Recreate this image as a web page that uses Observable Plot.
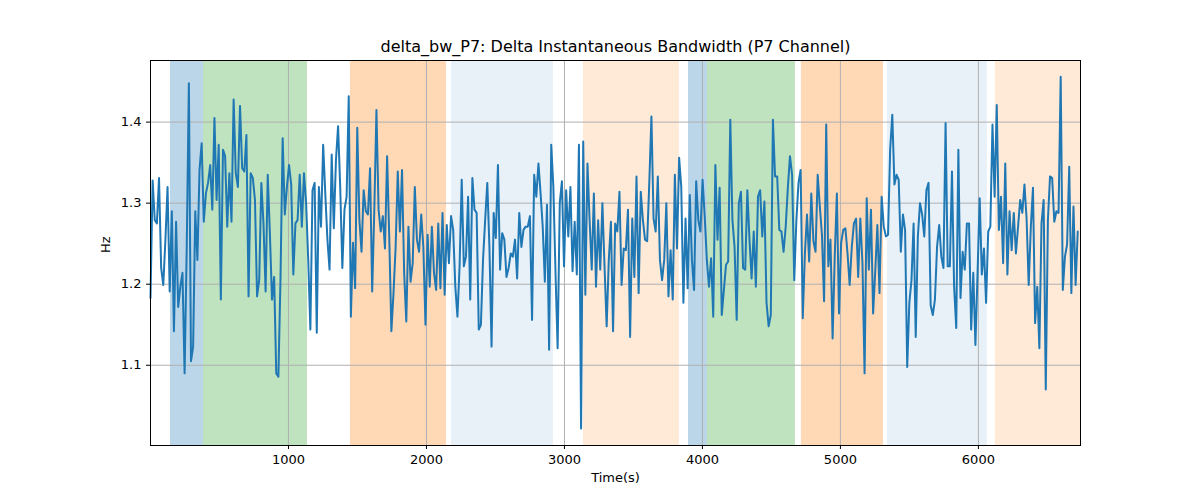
<!DOCTYPE html>
<html>
<head>
<meta charset="utf-8">
<script src="https://cdn.jsdelivr.net/npm/d3@7"></script>
<script src="https://cdn.jsdelivr.net/npm/@observablehq/plot@0.6"></script>
<style>
  body { margin: 0; background: #fff; font-family: "DejaVu Sans", sans-serif; }
</style>
</head>
<body>
<div id="chart"></div>
<script>
// signal values (regular sampling over the time range)
const values = [
  1.183,1.328,1.279,1.275,1.331,1.22,1.199,1.255,1.32,1.191,1.29,1.142,1.277,1.172,1.197,1.214,1.09,1.246,1.448,1.105,
  1.123,1.29,1.23,1.341,1.374,1.277,1.312,1.325,1.347,1.292,1.405,1.304,1.372,1.181,1.366,1.358,1.271,1.337,1.277,1.428,
  1.337,1.32,1.42,1.343,1.339,1.384,1.185,1.337,1.331,1.304,1.185,1.205,1.325,1.275,1.191,1.335,1.263,1.181,1.209,1.09,
  1.086,1.209,1.38,1.286,1.32,1.347,1.323,1.212,1.275,1.279,1.335,1.271,1.337,
  1.3,1.23,1.144,1.316,1.325,1.14,1.32,1.271,1.372,1.312,1.255,1.218,1.36,1.269,1.353,1.395,1.32,1.22,1.292,1.308,
  1.432,1.16,1.251,1.195,1.393,1.279,1.24,1.316,1.29,1.286,1.343,1.191,1.292,1.415,1.292,1.265,1.284,1.244,1.358,1.259,
  1.142,1.189,1.246,1.339,1.265,1.341,1.214,1.154,1.271,1.203,1.226,1.32,1.255,1.24,1.286,1.246,1.15,1.261,1.197,1.271,
  1.214,1.193,1.275,1.195,1.288,1.187,1.273,1.226,1.284,1.267,1.197,1.16,1.222,1.329,1.222,1.234,
  1.308,1.181,1.331,1.292,1.288,1.144,1.15,1.23,1.279,1.325,1.246,1.123,1.288,1.257,1.347,1.218,1.263,1.255,1.209,1.22,
  1.238,1.234,1.255,1.207,1.288,1.246,1.267,1.271,1.271,1.284,1.156,1.335,1.308,1.349,1.312,1.271,1.203,1.298,1.119,1.372,
  1.32,1.214,1.121,1.3,1.327,1.222,1.316,1.259,1.32,1.216,1.277,1.212,1.372,1.022,1.376,1.187,1.349,1.279,1.218,1.312,
  1.197,1.279,1.218,1.3,1.222,1.148,1.23,1.277,1.142,1.275,
  1.265,1.314,1.199,1.244,1.242,1.292,1.135,1.281,1.209,1.333,1.189,1.314,1.279,1.255,1.253,1.325,1.407,1.281,1.265,1.333,
  1.23,1.205,1.23,1.3,1.185,1.242,1.181,1.335,1.244,1.356,1.32,1.177,1.281,1.195,1.31,1.23,1.193,1.327,1.279,1.265,
  1.329,1.284,1.23,1.197,1.232,1.16,1.347,1.255,1.319,1.162,1.193,1.224,1.228,1.403,1.279,1.246,1.156,1.3,1.314,1.22,
  1.218,1.316,1.255,1.207,1.265,1.197,1.308,1.316,1.259,1.302,1.177,1.148,1.162,1.403,
  1.333,1.333,1.267,1.265,1.24,1.271,1.319,1.358,1.335,1.205,1.279,1.325,1.341,1.158,1.238,1.286,1.228,1.312,1.253,1.24,
  1.335,1.296,1.261,1.179,1.397,1.222,1.255,1.133,1.234,1.312,1.164,1.251,1.267,1.269,1.238,1.199,1.246,1.275,1.281,1.209,
  1.281,1.226,1.09,1.306,1.218,1.292,1.164,1.216,1.273,1.189,1.308,1.271,1.259,1.261,1.366,1.409,1.323,1.335,1.329,1.24,
  1.286,1.267,1.098,1.177,1.205,1.275,1.135,1.259,1.3,1.286,1.259,1.316,1.325,
  1.174,1.162,1.181,1.246,1.273,1.234,1.22,1.399,1.222,1.222,1.339,1.197,1.146,1.366,1.183,1.24,1.218,1.275,1.275,1.144,
  1.214,1.125,1.214,1.306,1.212,1.244,1.177,1.265,1.271,1.397,1.308,1.421,1.267,1.308,1.226,1.349,1.212,1.29,1.242,1.288,
  1.238,1.271,1.304,1.288,1.323,1.281,1.199,1.271,1.319,1.152,1.197,1.121,1.275,1.304,1.07,1.279,1.333,1.331,1.277,1.29,
  1.288,1.456,1.193,1.234,1.249,1.345,1.189,1.296,1.199,1.265
];
const tEnd = 6720;

// shaded phases
const bandStart = [145, 384, 1449, 2181, 3138, 3899, 4036, 4717, 5341, 6123];
const bandEnd   = [384, 1138, 2145, 2920, 3833, 4036, 4674, 5312, 6065, 6740];
const bandColor = ["#1f77b4","#2ca02c","#ff7f0e","#1f77b4","#ff7f0e","#1f77b4","#2ca02c","#ff7f0e","#1f77b4","#ff7f0e"];
const bandAlpha = [0.3, 0.3, 0.3, 0.1, 0.16, 0.3, 0.3, 0.3, 0.1, 0.16];

const xTicks = [1000, 2000, 3000, 4000, 5000, 6000];
const yTicks = [1.1, 1.2, 1.3, 1.4];

const series = values.map((v, i) => ({t: i * tEnd / (values.length - 1), v}));
const bands = bandStart.map((s, i) => ({s, e: bandEnd[i], c: bandColor[i], a: bandAlpha[i]}));

const chart = Plot.plot({
  width: 1200,
  height: 500,
  marginLeft: 150,
  marginRight: 120,
  marginTop: 60,
  marginBottom: 55,
  style: {fontFamily: "DejaVu Sans", fontSize: "12px", background: "white"},
  x: {domain: [0, 6740], ticks: xTicks, tickFormat: d3.format("d"), label: null},
  y: {domain: [1.001, 1.476], ticks: yTicks, tickFormat: d3.format(".1f"), label: null},
  marks: [
    Plot.rectX(bands, {x1: "s", x2: "e", fill: "c", fillOpacity: "a"}),
    Plot.gridX(xTicks, {stroke: "#b0b0b0", strokeOpacity: 1, strokeWidth: 1}),
    Plot.gridY(yTicks, {stroke: "#b0b0b0", strokeOpacity: 1, strokeWidth: 1}),
    Plot.line(series, {x: "t", y: "v", stroke: "#1f77b4", strokeWidth: 2}),
    Plot.frame({stroke: "black"}),
    Plot.axisX(xTicks, {tickSize: 4, fontSize: 13, tickFormat: d3.format("d"), label: null}),
    Plot.axisY(yTicks, {tickSize: 4, fontSize: 13, tickFormat: d3.format(".1f"), label: null}),
    Plot.text(["delta_bw_P7: Delta Instantaneous Bandwidth (P7 Channel)"], {frameAnchor: "top", dy: -20, fontSize: 16, fill: "black"}),
    Plot.text(["Time(s)"], {frameAnchor: "bottom", dy: 36, fontSize: 13, fill: "black"}),
    Plot.text(["Hz"], {frameAnchor: "left", dx: -45, rotate: -90, fontSize: 13, fill: "black"})
  ]
});

d3.select("#chart").append(() => chart);
</script>
</body>
</html>
